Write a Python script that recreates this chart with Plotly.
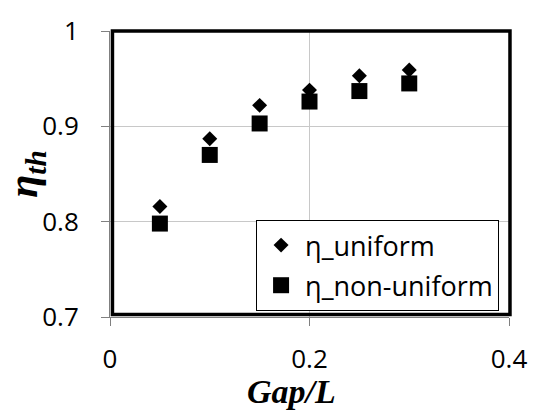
import plotly.graph_objects as go

# Thermal efficiency versus gap ratio
gap_ratio = [0.05, 0.10, 0.15, 0.20, 0.25, 0.30]
eta_uniform = [0.816, 0.887, 0.922, 0.938, 0.953, 0.959]
eta_non_uniform = [0.798, 0.870, 0.903, 0.926, 0.937, 0.945]

x_ticks = [0, 0.2, 0.4]
x_tick_text = ["0", "0.2", "0.4"]
y_ticks = [0.7, 0.8, 0.9, 1.0]
y_tick_text = ["0.7", "0.8", "0.9", "1"]

W, H = 539, 414
ML, MR, MT, MB = 110, 22, 19, 97
PW, PH = W - ML - MR, H - MT - MB

label_font = dict(family="Open Sans", size=26, color="black")
legend_font = dict(family="Open Sans", size=27, color="black")
title_font = dict(family="Liberation Serif", size=34, color="black")

fig = go.Figure()
fig.add_trace(go.Scatter(
    x=gap_ratio, y=eta_uniform, mode="markers", name="η_uniform",
    marker=dict(symbol="diamond", size=11.5, color="black"),
    legendgroup="a",
))
fig.add_trace(go.Scatter(
    x=gap_ratio, y=eta_non_uniform, mode="markers", name="η_non-uniform",
    marker=dict(symbol="square", size=16, color="black"),
    legendgroup="b",
))

axis_common = dict(
    showline=True, linecolor="#808080", linewidth=1,
    showgrid=True, gridcolor="#c8c8c8", gridwidth=1,
    ticks="outside", ticklen=8, tickcolor="#808080", tickwidth=1,
    zeroline=False, tickfont=label_font, mirror=False,
)

fig.update_xaxes(range=[0, 0.4], tickvals=x_ticks, ticktext=x_tick_text,
                 ticklabelstandoff=11, **axis_common)
fig.update_yaxes(range=[0.7, 1.0], tickvals=y_ticks, ticktext=y_tick_text,
                 ticklabelstandoff=17, **axis_common)

# Heavy black frame around the plotting area
fig.add_shape(type="rect", xref="paper", yref="paper",
              x0=2.5 / PW, x1=1 + 1 / PW, y0=2.5 / PH, y1=1,
              line=dict(color="black", width=3.5), layer="above")

# Axis titles
fig.add_annotation(text="<b><i>Gap/L</i></b>", xref="paper", yref="paper",
                   x=(295 - ML) / PW, y=(MT + PH - 395) / PH,
                   xanchor="center", yanchor="middle", showarrow=False,
                   font=title_font)
fig.add_annotation(text="<b><i>η<sub>th</sub></i></b>", xref="paper", yref="paper",
                   x=(24 - ML) / PW, y=(MT + PH - 168) / PH, textangle=-90,
                   xanchor="center", yanchor="middle", showarrow=False,
                   font=dict(family="Liberation Serif", size=42, color="black"))

fig.update_layout(
    width=W, height=H,
    margin=dict(l=ML, r=MR, t=MT, b=MB),
    paper_bgcolor="white", plot_bgcolor="white",
    showlegend=True,
    legend=dict(
        x=(259 - ML) / PW, y=(MT + PH - 216) / PH,
        xanchor="left", yanchor="top",
        bgcolor="white", bordercolor="black", borderwidth=1,
        font=legend_font, tracegroupgap=2, itemwidth=38,
    ),
)

fig.write_html("out.html")
